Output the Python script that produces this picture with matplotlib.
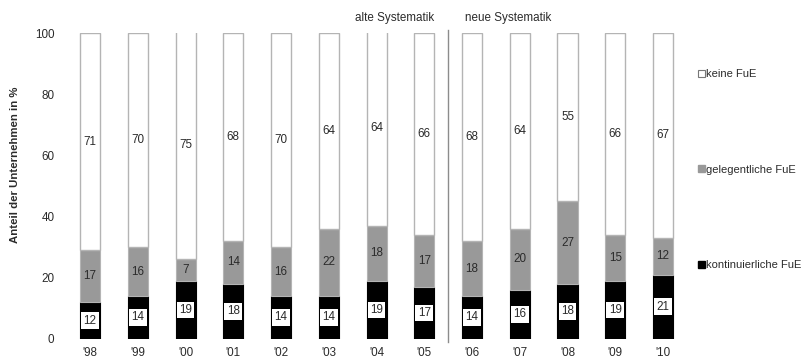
import matplotlib.pyplot as plt
import numpy as np
from matplotlib.patches import Patch

plt.rcParams['font.family'] = ['Liberation Sans', 'DejaVu Sans']

# Anteile je Jahr (%)
jahre = ["'98", "'99", "'00", "'01", "'02", "'03", "'04", "'05",
         "'06", "'07", "'08", "'09", "'10"]
kontinuierlich = [12, 14, 19, 18, 14, 14, 19, 17, 14, 16, 18, 19, 21]
gelegentlich = [17, 16, 7, 14, 16, 22, 18, 17, 18, 20, 27, 15, 12]
keine = [71, 70, 75, 68, 70, 64, 64, 66, 68, 64, 55, 66, 67]

txt = '#2b2b2b'
edge = '#b4b4b4'
fs = 8.4

fig = plt.figure(figsize=(8.08, 3.59), dpi=100)
ax = fig.add_axes([0.076, 0.056, 0.78, 0.852])

x = np.arange(len(jahre))
w = 0.42
k = np.array(kontinuierlich)
g = np.array(gelegentlich)
n = np.array(keine)

ax.bar(x, k, w, color='black', edgecolor='black', lw=0.8)
ax.bar(x, g, w, bottom=k, color='#999999', edgecolor=edge, lw=0.8)
ax.bar(x, n, w, bottom=k + g, color='white', edgecolor=edge, lw=1.0)

for i in x:
    ax.text(i, k[i] / 2, str(k[i]), ha='center', va='center', fontsize=fs,
            color=txt, bbox=dict(boxstyle='square,pad=0.2', fc='white', ec='none'))
    ax.text(i, k[i] + g[i] / 2, str(g[i]), ha='center', va='center',
            fontsize=fs, color=txt)
    ax.text(i, k[i] + g[i] + n[i] / 2, str(n[i]), ha='center', va='center',
            fontsize=fs, color=txt)

# Bruch in der Systematik
ax.plot([7.5, 7.5], [-1, 101], color='#8c8c8c', lw=1, clip_on=False)
ax.text(7.2, 105, 'alte Systematik', ha='right', va='center', fontsize=fs, color=txt)
ax.text(7.85, 105, 'neue Systematik', ha='left', va='center', fontsize=fs, color=txt)

ax.set_xlim(-0.6, 12.6)
ax.set_ylim(0, 100)
ax.set_yticks(range(0, 101, 20))
ax.set_xticks(x)
ax.set_xticklabels(jahre)
ax.tick_params(length=0, labelsize=fs, colors=txt)
ax.tick_params(axis='y', pad=5)
ax.tick_params(axis='x', pad=6)
for s in ax.spines.values():
    s.set_visible(False)
ax.set_ylabel('Anteil der Unternehmen in %', fontsize=8.2, fontweight='bold',
              color=txt)
ax.yaxis.set_label_coords(-0.066, 0.57)

handles = [Patch(fc='white', ec='#777777', lw=0.8),
           Patch(fc='#999999', ec='#999999'),
           Patch(fc='black', ec='black')]
ax.legend(handles, ['keine FuE', 'gelegentliche FuE', 'kontinuierliche FuE'],
          loc='upper left', bbox_to_anchor=(1.01, 0.882), frameon=False,
          fontsize=8, labelcolor=txt, handlelength=0.6, handleheight=0.6,
          handletextpad=0.15, labelspacing=7.7, borderpad=0, borderaxespad=0)

fig.savefig('out.png', dpi=100)
